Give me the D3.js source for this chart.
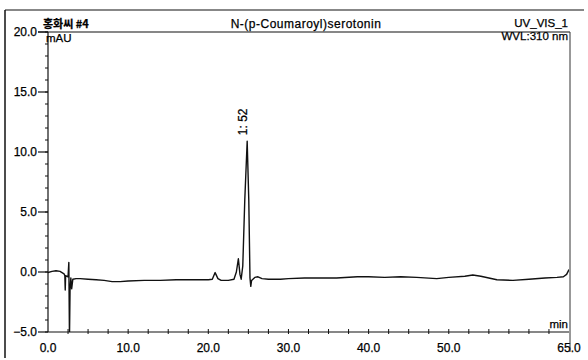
<!DOCTYPE html>
<html>
<head>
<meta charset="utf-8">
<script src="https://cdn.jsdelivr.net/npm/d3@7"></script>
<style>
  body { margin: 0; background: #fff; }
  svg text { font-family: "Liberation Sans", Arial, sans-serif; fill: #000; stroke: #000; stroke-width: 0.25; }
</style>
</head>
<body>
<div id="chart"></div>
<script>
// retention time (min) and signal (mAU)
var times = [0, 0.5, 1.0, 1.5, 2.0, 2.1, 2.15, 2.2, 2.5, 2.6, 2.68, 2.75, 2.85, 2.95, 3.1,
  3.5, 4, 5, 6, 7, 8, 9, 10, 12, 14, 16, 18, 20, 20.5, 20.85, 21.2, 21.6, 22.5,
  23.2, 23.5, 23.75, 23.95, 24.1, 24.3, 24.55, 24.85, 25.05, 25.2, 25.3, 25.4,
  25.8, 26.2, 26.7, 27.5, 29, 30, 32, 34, 36, 38.6, 40, 42, 44, 46, 48.5, 50,
  52, 53, 54, 55, 56, 58, 60, 62, 63.5, 64.3, 64.7, 65];
var signal = [-0.05, 0.05, 0.1, 0.05, -0.15, -0.3, -1.5, -0.3, -0.4, 0.8, -5.5, -1.5, -0.5, -1.4, -0.6,
  -0.55, -0.55, -0.6, -0.65, -0.7, -0.8, -0.8, -0.75, -0.7, -0.7, -0.65, -0.65, -0.65, -0.6, -0.05, -0.55, -0.7, -0.7,
  -0.6, 0.0, 1.1, -0.2, -0.6, 0.5, 6, 10.9, 6, -0.5, -1.2, -0.7,
  -0.45, -0.4, -0.55, -0.6, -0.6, -0.55, -0.5, -0.5, -0.5, -0.4, -0.4, -0.45, -0.4, -0.45, -0.55, -0.45,
  -0.35, -0.25, -0.35, -0.5, -0.65, -0.7, -0.6, -0.5, -0.45, -0.4, -0.2, 0.2];

var x_ticks = [0, 10, 20, 30, 40, 50, 65];
var y_ticks = [-5, 0, 5, 10, 15, 20];
var peak_labels = [{ t: 24.85, v: 10.9, text: "1: 52" }];

var W = 588, H = 360;
var plot = { left: 48, right: 569, top: 32, bottom: 332 };

var svg = d3.select("#chart").append("svg")
  .attr("width", W).attr("height", H);

var x = d3.scaleLinear().domain([0, 65]).range([plot.left, plot.right]);
var y = d3.scaleLinear().domain([-5, 20]).range([plot.bottom, plot.top]);

// outer frame bits
svg.append("line").attr("x1", 5).attr("x2", 5).attr("y1", 10).attr("y2", 358)
  .attr("stroke", "#111").attr("stroke-width", 1.5);
svg.append("line").attr("x1", 5).attr("x2", 584).attr("y1", 10).attr("y2", 10)
  .attr("stroke", "#111").attr("stroke-width", 1.2);
// top border of plot
svg.append("line").attr("x1", 38).attr("x2", plot.right + 1).attr("y1", plot.top).attr("y2", plot.top)
  .attr("stroke", "#111").attr("stroke-width", 1.2);
// right border
svg.append("line").attr("x1", plot.right + 1).attr("x2", plot.right + 1).attr("y1", plot.top).attr("y2", 352)
  .attr("stroke", "#333").attr("stroke-width", 1);

// y axis
var yAxis = svg.append("g").attr("transform", "translate(" + plot.left + ",0)");
yAxis.append("line").attr("x1", 0).attr("x2", 0).attr("y1", plot.top).attr("y2", plot.bottom)
  .attr("stroke", "#111").attr("stroke-width", 1.2);
yAxis.selectAll("line.minor").data(d3.range(-5, 21, 1)).enter().append("line")
  .attr("class", "minor")
  .attr("x1", -3).attr("x2", 0)
  .attr("y1", function(d) { return y(d); }).attr("y2", function(d) { return y(d); })
  .attr("stroke", "#111");
yAxis.selectAll("line.major").data(y_ticks).enter().append("line")
  .attr("class", "major")
  .attr("x1", -10).attr("x2", 0)
  .attr("y1", function(d) { return y(d); }).attr("y2", function(d) { return y(d); })
  .attr("stroke", "#111").attr("stroke-width", 1.2);
yAxis.selectAll("text").data(y_ticks).enter().append("text")
  .attr("x", -11).attr("y", function(d) { return y(d) + 4; })
  .attr("text-anchor", "end").attr("font-size", 12)
  .text(function(d) { return d3.format(".1f")(d); });

// x axis
var xAxis = svg.append("g").attr("transform", "translate(0," + plot.bottom + ")");
xAxis.append("line").attr("x1", plot.left).attr("x2", plot.right).attr("y1", 0).attr("y2", 0)
  .attr("stroke", "#111").attr("stroke-width", 1.2);
xAxis.selectAll("line.minor").data(d3.range(2.5, 65, 2.5)).enter().append("line")
  .attr("class", "minor")
  .attr("x1", function(d) { return x(d); }).attr("x2", function(d) { return x(d); })
  .attr("y1", -3).attr("y2", 2)
  .attr("stroke", "#111");
xAxis.selectAll("text").data(x_ticks).enter().append("text")
  .attr("x", function(d) { return x(d); }).attr("y", 20)
  .attr("text-anchor", "middle").attr("font-size", 12)
  .text(function(d) { return d3.format(".1f")(d); });

// labels
svg.append("text").attr("x", 46).attr("y", 42).attr("font-size", 11.5).text("mAU");
svg.append("text").attr("x", plot.right - 1).attr("y", plot.bottom - 4)
  .attr("text-anchor", "end").attr("font-size", 11.5).text("min");
svg.append("text").attr("x", 43).attr("y", 28).attr("font-size", 11)
  .attr("font-weight", "bold")
  .style("font-family", "'Noto Sans CJK KR', sans-serif").text("홍화씨 #4");
svg.append("text").attr("x", 306).attr("y", 28).attr("text-anchor", "middle")
  .attr("font-size", 12).attr("letter-spacing", 0.5).text("N-(p-Coumaroyl)serotonin");
svg.append("text").attr("x", plot.right - 1).attr("y", 26.5).attr("text-anchor", "end")
  .attr("font-size", 11.5).text("UV_VIS_1");
svg.append("text").attr("x", plot.right - 1).attr("y", 40).attr("text-anchor", "end")
  .attr("font-size", 11.5).text("WVL:310 nm");

// trace
svg.append("clipPath").attr("id", "clip").append("rect")
  .attr("x", plot.left).attr("y", plot.top)
  .attr("width", plot.right - plot.left).attr("height", plot.bottom - plot.top);

var pts = times.map(function(t, i) { return { t: t, v: signal[i] }; });
var line = d3.line()
  .x(function(d) { return x(d.t); })
  .y(function(d) { return y(d.v); });

svg.append("path").datum(pts)
  .attr("clip-path", "url(#clip)")
  .attr("d", line)
  .attr("fill", "none").attr("stroke", "#111").attr("stroke-width", 1.4)
  .attr("stroke-linejoin", "round");

// peak label
svg.selectAll("text.peak").data(peak_labels).enter().append("text")
  .attr("class", "peak")
  .attr("transform", function(d) {
    return "translate(" + (x(d.t) - 0.5) + "," + (y(d.v) - 6) + ") rotate(-90)";
  })
  .attr("font-size", 12)
  .text(function(d) { return d.text; });
</script>
</body>
</html>
